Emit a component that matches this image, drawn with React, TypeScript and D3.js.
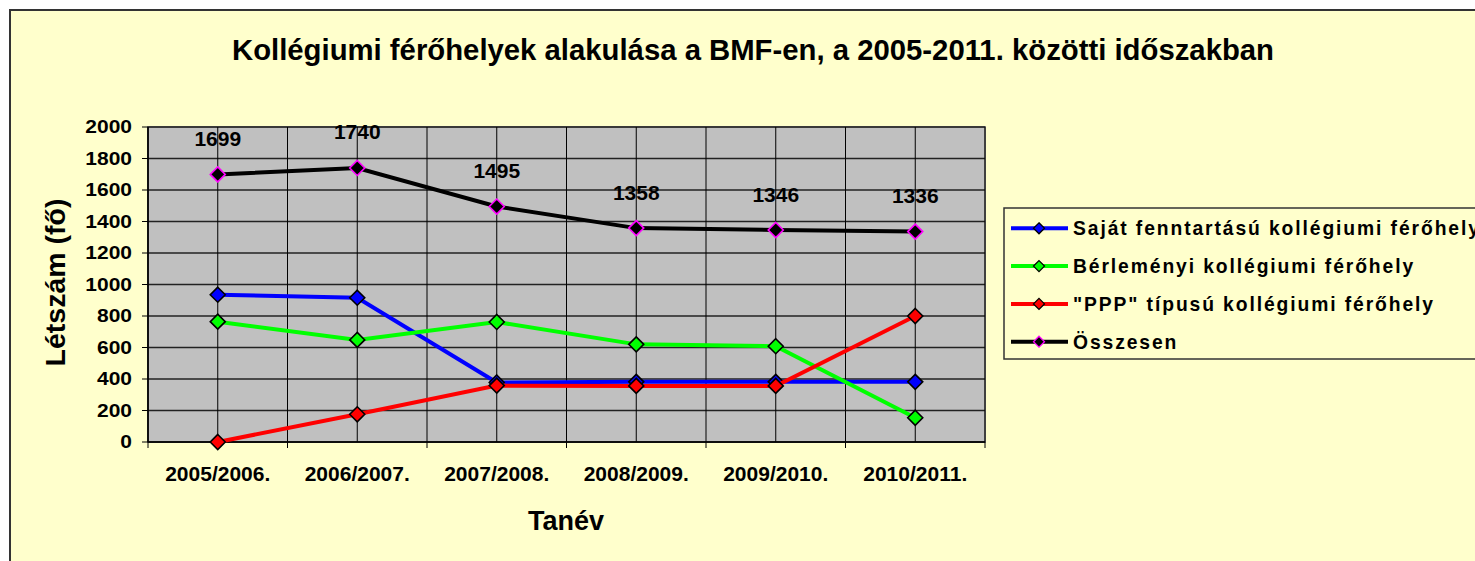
import React from "react";
import * as d3 from "d3";

const categories = ["2005/2006.", "2006/2007.", "2007/2008.", "2008/2009.", "2009/2010.", "2010/2011."];
const sajat = [935, 916, 378, 382, 382, 382];
const berlemenyi = [764, 648, 762, 620, 608, 154];
const ppp = [0, 176, 358, 356, 356, 800];
const osszesen = [1699, 1740, 1495, 1358, 1346, 1336];
const yTicks = [0, 200, 400, 600, 800, 1000, 1200, 1400, 1600, 1800, 2000];

const seriesList = [
  { name: "Saját fenntartású kollégiumi férőhely", values: sajat, line: "#0000FF", fill: "#0000FF", stroke: "#000000" },
  { name: "Bérleményi kollégiumi férőhely", values: berlemenyi, line: "#00FF00", fill: "#00FF00", stroke: "#000000" },
  { name: "\"PPP\" típusú kollégiumi férőhely", values: ppp, line: "#FF0000", fill: "#FF0000", stroke: "#000000" },
  { name: "Összesen", values: osszesen, line: "#000000", fill: "#000000", stroke: "#FF00FF" },
];

const W = 1475;
const H = 561;
const FONT = "'Liberation Sans', Arial, sans-serif";

export default function App() {
  const left = 148, right = 985, top = 127, bottom = 442;
  const x = d3.scaleBand<string>().domain(categories).range([left, right]).padding(0);
  const y = d3.scaleLinear().domain([0, 2000]).range([bottom, top]);
  const cx = (c: string) => (x(c) as number) + x.bandwidth() / 2;
  const line = d3.line<number>().x((_, i) => cx(categories[i])).y((v) => y(v));
  const diamond = (px: number, py: number, r: number) =>
    `M${px},${py - r}L${px + r},${py}L${px},${py + r}L${px - r},${py}Z`;
  const boundaries = categories.map((c) => x(c) as number).concat([right]);

  return (
    <svg width={W} height={H} style={{ position: "absolute", left: 0, top: 0, display: "block" }}>
      <rect x={0} y={0} width={W} height={H} fill="#ffffff" />
      <rect x={10} y={10} width={W + 20} height={H + 20} fill="#FFFFCC" stroke="#333333" strokeWidth={2} />
      <text x={753} y={59.5} textAnchor="middle" fontFamily={FONT} fontWeight="bold" fontSize={29.3} fill="#000">
        Kollégiumi férőhelyek alakulása a BMF-en, a 2005-2011. közötti időszakban
      </text>

      {/* plot area */}
      <rect x={left} y={top} width={right - left} height={bottom - top} fill="#C0C0C0" stroke="#808080" strokeWidth={2} />
      {yTicks.map((t) => (
        <line key={"h" + t} x1={left} x2={right} y1={y(t)} y2={y(t)} stroke="#222" strokeWidth={1.5} />
      ))}
      {categories.map((c) => (
        <line key={"vc" + c} x1={cx(c)} x2={cx(c)} y1={top} y2={bottom} stroke="#000" strokeWidth={1} />
      ))}
      {boundaries.map((b, i) => (
        <line key={"vb" + i} x1={b} x2={b} y1={top} y2={bottom + 6} stroke="#000" strokeWidth={1} />
      ))}
      {/* axes */}
      <line x1={left} x2={left} y1={top} y2={bottom} stroke="#000" strokeWidth={1.5} />
      <line x1={left} x2={right} y1={bottom} y2={bottom} stroke="#000" strokeWidth={1.5} />
      {yTicks.map((t) => (
        <g key={"yt" + t}>
          <line x1={left - 6} x2={left} y1={y(t)} y2={y(t)} stroke="#000" strokeWidth={1} />
          <text transform={`translate(132,${y(t) + 6.3}) scale(1.18,1)`} textAnchor="end" fontFamily={FONT} fontWeight="bold" fontSize={17.8} fill="#000">
            {t}
          </text>
        </g>
      ))}
      {categories.map((c) => (
        <text key={"xt" + c} x={cx(c)} y={481} textAnchor="middle" fontFamily={FONT} fontWeight="bold" fontSize={21} fill="#000">
          {c}
        </text>
      ))}
      <text transform={`translate(65,282.5) rotate(-90)`} textAnchor="middle" fontFamily={FONT} fontWeight="bold" fontSize={28.5} fill="#000">
        Létszám (fő)
      </text>
      <text x={566} y={530} textAnchor="middle" fontFamily={FONT} fontWeight="bold" fontSize={27} fill="#000">
        Tanév
      </text>

      {/* series */}
      {seriesList.map((s) => (
        <g key={s.name}>
          <path d={line(s.values) as string} fill="none" stroke={s.line} strokeWidth={4} />
          {s.values.map((v, i) => (
            <path key={i} d={diamond(cx(categories[i]), y(v), 7.5)} fill={s.fill} stroke={s.stroke} strokeWidth={1.6} />
          ))}
        </g>
      ))}
      {osszesen.map((v, i) => (
        <text key={"dl" + i} x={cx(categories[i])} y={y(v) - 28.5} textAnchor="middle" fontFamily={FONT} fontWeight="bold" fontSize={21} fill="#000">
          {v}
        </text>
      ))}

      {/* legend */}
      <rect x={1004} y={208} width={500} height={151} fill="#FFFFCC" stroke="#333" strokeWidth={1.5} />
      {seriesList.map((s, i) => {
        const ly = 228.3 + i * 37.8;
        return (
          <g key={"lg" + i}>
            <line x1={1011} x2={1068} y1={ly} y2={ly} stroke={s.line} strokeWidth={4} />
            <path d={diamond(1039, ly, 5.5)} fill={s.fill} stroke={s.stroke} strokeWidth={1.3} />
            <text x={1073} y={ly + 6.8} fontFamily={FONT} fontWeight="bold" fontSize={19.3} letterSpacing={1.9} fill="#000">
              {s.name}
            </text>
          </g>
        );
      })}
    </svg>
  );
}
